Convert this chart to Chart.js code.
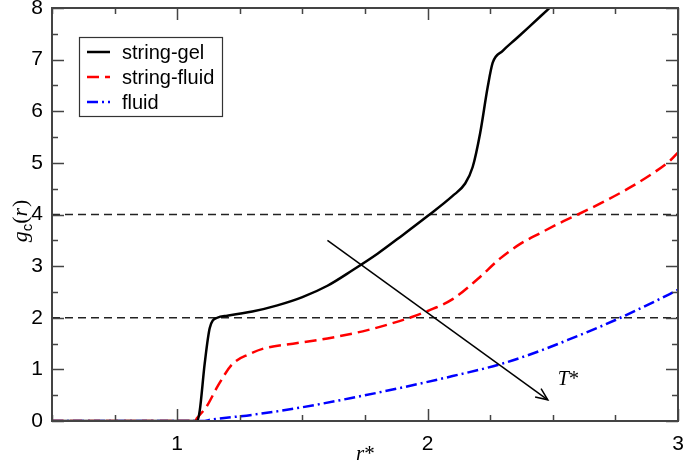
<!DOCTYPE html>
<html>
<head>
<meta charset="utf-8">
<script src="https://cdn.jsdelivr.net/npm/chart.js@4.4.1/dist/chart.umd.min.js"></script>
<style>
  html, body { margin: 0; padding: 0; background: #fff; }
  #wrap { width: 685px; height: 465px; }
</style>
</head>
<body>
<div id="wrap"><canvas id="myChart" width="685" height="465"></canvas></div>
<script>
// r* values and g_c(r)
const rGel = [0.5, 1.0, 1.08, 1.09, 1.11, 1.13, 1.16, 1.2, 1.3, 1.4, 1.5, 1.6, 1.7, 1.8, 1.9, 2.0, 2.1, 2.15, 2.18, 2.21, 2.24, 2.26, 2.3, 2.35, 2.4, 2.48, 2.52];
const gGel = [0, 0, 0, 0.2, 1.12, 1.8, 2.0, 2.04, 2.12, 2.24, 2.4, 2.62, 2.92, 3.24, 3.6, 3.97, 4.36, 4.6, 4.92, 5.58, 6.47, 6.94, 7.17, 7.39, 7.61, 7.97, 8.15];

const rStrFluid = [0.5, 1.07, 1.08, 1.12, 1.16, 1.22, 1.29, 1.35, 1.48, 1.6, 1.76, 1.85, 1.94, 2.02, 2.1, 2.2, 2.29, 2.37, 2.45, 2.53, 2.6, 2.7, 2.8, 2.9, 2.97, 3.0];
const gStrFluid = [0, 0, 0.06, 0.3, 0.66, 1.1, 1.3, 1.41, 1.51, 1.6, 1.76, 1.88, 2.02, 2.17, 2.36, 2.75, 3.15, 3.43, 3.64, 3.84, 4.0, 4.24, 4.5, 4.8, 5.05, 5.2];

const rFluid = [0.5, 1.1, 1.14, 1.3, 1.48, 1.7, 1.89, 2.1, 2.29, 2.45, 2.56, 2.7, 2.77, 2.9, 3.0];
const gFluid = [0, 0, 0.03, 0.12, 0.25, 0.45, 0.64, 0.87, 1.1, 1.36, 1.57, 1.85, 2.0, 2.3, 2.54];

const refLevels = [2, 4];
const xTicks = [1, 2, 3];
const yTicks = [0, 1, 2, 3, 4, 5, 6, 7, 8];
const legendNames = ["string-gel", "string-fluid", "fluid"];

// arrow annotation (data units) and its label
const arrowFrom = [1.6, 3.5];
const arrowTo = [2.48, 0.41];
const arrowLabelAt = [2.52, 0.7];

const toPts = (xs, ys) => xs.map((x, i) => ({ x: x, y: ys[i] }));

const styles = [
  { color: "#000000", dash: [] },
  { color: "#ff0000", dash: [12, 6] },
  { color: "#0000ff", dash: [11, 4, 2, 4] },
];

const datasets = [
  { label: legendNames[0], data: toPts(rGel, gGel), borderColor: styles[0].color, borderDash: styles[0].dash, borderWidth: 2.5 },
  { label: legendNames[1], data: toPts(rStrFluid, gStrFluid), borderColor: styles[1].color, borderDash: styles[1].dash, borderWidth: 2.5 },
  { label: legendNames[2], data: toPts(rFluid, gFluid), borderColor: styles[2].color, borderDash: styles[2].dash, borderWidth: 2.5 },
];
refLevels.forEach(v => {
  datasets.push({ label: "ref" + v, data: [{ x: 0.5, y: v }, { x: 3, y: v }], borderColor: "#222", borderDash: [8, 5], borderWidth: 1.5 });
});

// frame, inward ticks, legend, axis titles and arrow
const decor = {
  id: "decor",
  afterDraw(chart) {
    const ctx = chart.ctx;
    const a = chart.chartArea;
    const xs = chart.scales.x, ys = chart.scales.y;
    ctx.save();

    // ticks
    ctx.strokeStyle = "#444";
    ctx.lineWidth = 1.5;
    ctx.setLineDash([]);
    ctx.beginPath();
    for (let v = 0.5; v <= 3.001; v += 0.25) {
      const px = Math.round(xs.getPixelForValue(v)) + 0.5;
      const len = xTicks.includes(v) ? 12 : 6;
      ctx.moveTo(px, a.bottom); ctx.lineTo(px, a.bottom - len);
      ctx.moveTo(px, a.top); ctx.lineTo(px, a.top + len);
    }
    for (let v = 0; v <= 8.001; v += 0.5) {
      const py = Math.round(ys.getPixelForValue(v)) + 0.5;
      const len = Number.isInteger(v) ? 12 : 6;
      ctx.moveTo(a.left, py); ctx.lineTo(a.left + len, py);
      ctx.moveTo(a.right, py); ctx.lineTo(a.right - len, py);
    }
    ctx.stroke();

    // frame
    ctx.lineWidth = 2;
    ctx.strokeRect(a.left, a.top, a.right - a.left, a.bottom - a.top);

    // legend
    const bx = 79.5, by = 37.5, bw = 143, bh = 79;
    ctx.fillStyle = "#fff";
    ctx.fillRect(bx, by, bw, bh);
    ctx.lineWidth = 1.2;
    ctx.strokeStyle = "#333";
    ctx.strokeRect(bx, by, bw, bh);
    ctx.font = "20px 'Liberation Sans', Arial, sans-serif";
    ctx.textBaseline = "middle";
    legendNames.forEach((name, i) => {
      const y = 52 + i * 25;
      ctx.strokeStyle = styles[i].color;
      ctx.lineWidth = 2.5;
      ctx.setLineDash(styles[i].dash);
      ctx.beginPath(); ctx.moveTo(87, y); ctx.lineTo(110, y); ctx.stroke();
      ctx.setLineDash([]);
      ctx.fillStyle = "#000";
      ctx.fillText(name, 122, y + 1);
    });

    // arrow
    const x1 = xs.getPixelForValue(arrowFrom[0]), y1 = ys.getPixelForValue(arrowFrom[1]);
    const x2 = xs.getPixelForValue(arrowTo[0]), y2 = ys.getPixelForValue(arrowTo[1]);
    ctx.strokeStyle = "#000";
    ctx.lineWidth = 1.5;
    ctx.beginPath(); ctx.moveTo(x1, y1); ctx.lineTo(x2, y2); ctx.stroke();
    const ang = Math.atan2(y2 - y1, x2 - x1);
    ctx.beginPath();
    ctx.moveTo(x2 - 13 * Math.cos(ang - 0.4), y2 - 13 * Math.sin(ang - 0.4));
    ctx.lineTo(x2, y2);
    ctx.lineTo(x2 - 13 * Math.cos(ang + 0.4), y2 - 13 * Math.sin(ang + 0.4));
    ctx.stroke();

    // T* label
    ctx.fillStyle = "#000";
    ctx.textBaseline = "alphabetic";
    ctx.textAlign = "left";
    let tx = xs.getPixelForValue(arrowLabelAt[0]);
    const ty = ys.getPixelForValue(arrowLabelAt[1]);
    ctx.font = "italic 20px 'Liberation Serif', 'Times New Roman', serif";
    ctx.fillText("T", tx, ty);
    tx += ctx.measureText("T").width;
    ctx.font = "20px 'Liberation Serif', 'Times New Roman', serif";
    ctx.fillText("*", tx, ty);

    // x title r*
    ctx.font = "italic 21px 'Liberation Serif', 'Times New Roman', serif";
    let rx = 356;
    ctx.fillText("r", rx, 460);
    rx += ctx.measureText("r").width;
    ctx.font = "21px 'Liberation Serif', 'Times New Roman', serif";
    ctx.fillText("*", rx, 460);

    // y title g_c(r)
    ctx.translate(27, 221);
    ctx.rotate(-Math.PI / 2);
    const serif = "'Liberation Serif', 'Times New Roman', serif";
    const parts = [
      { t: "g", f: "italic 22px " + serif, dy: 0 },
      { t: "c", f: "15px 'Liberation Sans', Arial, sans-serif", dy: 5 },
      { t: "(", f: "22px " + serif, dy: 0 },
      { t: "r", f: "italic 22px " + serif, dy: 0 },
      { t: ")", f: "22px " + serif, dy: 0 },
    ];
    let total = 0;
    parts.forEach(p => { ctx.font = p.f; total += ctx.measureText(p.t).width + (p.t === "r" ? 1 : 0); });
    let cx = -total / 2;
    parts.forEach(p => {
      ctx.font = p.f;
      ctx.fillText(p.t, cx, p.dy);
      cx += ctx.measureText(p.t).width + (p.t === "r" ? 1 : 0);
    });

    ctx.restore();
  },
};

const tickFont = { family: "'Liberation Sans', Arial, sans-serif", size: 21 };

const ctx = document.getElementById("myChart").getContext("2d");
const myChart = new Chart(ctx, {
  type: "line",
  data: { datasets: datasets },
  options: {
    responsive: false,
    animation: false,
    layout: { padding: { top: 8, right: 7, left: 0, bottom: 0 } },
    elements: { point: { radius: 0 }, line: { cubicInterpolationMode: "monotone", fill: false } },
    plugins: { legend: { display: false }, tooltip: { enabled: false } },
    scales: {
      x: {
        type: "linear",
        min: 0.5,
        max: 3,
        grid: { display: false, drawTicks: false },
        border: { display: false },
        afterBuildTicks: s => { s.ticks = xTicks.map(v => ({ value: v })); },
        afterFit: s => { s.height = 44; s.paddingLeft = 0; s.paddingRight = 0; },
        ticks: { color: "#000", padding: 11, font: tickFont },
      },
      y: {
        type: "linear",
        min: 0,
        max: 8,
        grid: { display: false, drawTicks: false },
        border: { display: false },
        afterBuildTicks: s => { s.ticks = yTicks.map(v => ({ value: v })); },
        afterFit: s => { s.width = 52; s.paddingTop = 0; s.paddingBottom = 0; },
        ticks: { color: "#000", padding: 9, font: tickFont },
      },
    },
  },
  plugins: [decor],
});
</script>
</body>
</html>
